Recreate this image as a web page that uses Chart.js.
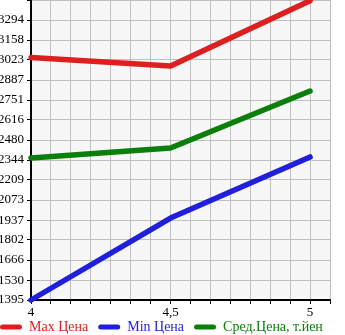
<!DOCTYPE html>
<html>
<head>
<meta charset="utf-8">
<script src="https://cdn.jsdelivr.net/npm/chart.js@4/dist/chart.umd.min.js"></script>
<style>
html,body{margin:0;padding:0;background:#fff;}
#wrap{width:345px;height:335px;position:relative;}
</style>
</head>
<body>
<div id="wrap"><canvas id="c"></canvas></div>
<script>
const xValues = [4, 4.5, 5];
const xTickLabels = ['4', '4,5', '5'];
const seriesNames = ['Max Цена', 'Min Цена', 'Сред.Цена, т.йен'];
const maxPrice = [3040, 2982, 3425];
const minPrice = [1395, 1951, 2365];
const avgPrice = [2358, 2426, 2812];
const yTickLabels = ['1395','1530','1666','1802','1937','2073','2209','2344','2480','2616','2751','2887','3023','3158','3294'];
const colors = ['#dd1f1f', '#1f1fdd', '#0a800a'];

const yVals = yTickLabels.map(Number);
const yStep = (yVals[yVals.length-1] - yVals[0]) / (yVals.length - 1);
const yMax = yVals[yVals.length-1] + yStep;
const xStep = (xValues[2] - xValues[0]) / 14;
const xMax = xValues[0] + 15 * xStep;
const legendPad = 10;

function pts(arr){ return arr.map((v,i)=>({x:xValues[i], y:v})); }

const bgPlugin = {
  id: 'bg',
  beforeDraw(chart){
    const a = chart.chartArea, ctx = chart.ctx;
    ctx.save(); ctx.fillStyle = '#f7f7f7';
    ctx.fillRect(a.left, a.top, a.right - a.left, a.bottom - a.top);
    ctx.restore();
  },
  beforeLayout(chart){
    const lg = chart.legend;
    if (lg && !lg._wrapFit){
      const f = lg.fit.bind(lg);
      lg.fit = function(){
        f();
        this.height = 25;
        if (this.lineWidths && this.lineWidths.length === 1) this.lineWidths[0] = legendPad + chart.width;
      };
      lg._wrapFit = true;
    }
  }
};

const datasets = [maxPrice, minPrice, avgPrice].map((d,i)=>({
  label: seriesNames[i],
  data: pts(d),
  borderColor: colors[i],
  backgroundColor: colors[i],
  borderWidth: 5.5,
  borderCapStyle: 'round',
  borderJoinStyle: 'round',
  pointRadius: 0,
  fill: false,
  tension: 0,
  clip: false
}));

const font = {family: '"Liberation Serif", "Times New Roman", serif', size: 13};
const legendFont = {family: '"Liberation Serif", "Times New Roman", serif', size: 14};

new Chart(document.getElementById('c'), {
  type: 'line',
  data: {datasets},
  plugins: [bgPlugin],
  options: {
    responsive: true,
    maintainAspectRatio: false,
    animation: false,
    layout: {padding: 0},
    plugins: {
      tooltip: {enabled: false},
      legend: {
        position: 'bottom',
        labels: {
          font: legendFont,
          boxWidth: 22,
          boxHeight: 5,
          padding: legendPad,
          useBorderRadius: true,
          borderRadius: 2.5,
          generateLabels(chart){
            return chart.data.datasets.map((ds,i)=>({
              text: ds.label,
              fillStyle: ds.borderColor,
              strokeStyle: ds.borderColor,
              lineWidth: 0,
              fontColor: ds.borderColor,
              borderRadius: 2.5,
              datasetIndex: i,
              hidden: false
            }));
          }
        }
      }
    },
    scales: {
      x: {
        type: 'linear',
        min: xValues[0],
        max: xMax,
        afterBuildTicks(scale){
          const t = [];
          for (let k = 0; k <= 15; k++) t.push({value: xValues[0] + k * xStep});
          scale.ticks = t;
        },
        afterFit(scale){
          scale.height = 10; scale.paddingLeft = 0; scale.paddingRight = 15;
          scale._computeLabelArea = function(){ return undefined; };
        },
        ticks: {
          font: font, color: '#000', maxRotation: 0, autoSkip: false, padding: 1,
          callback(v){
            for (let i = 0; i < xValues.length; i++) if (Math.abs(v - xValues[i]) < 1e-6) return xTickLabels[i];
            return '';
          }
        },
        grid: {color: '#c0c0c0', tickColor: '#000', tickLength: 4, lineWidth: 1},
        border: {color: '#000', width: 2}
      },
      y: {
        type: 'linear',
        min: yVals[0],
        max: yMax,
        afterBuildTicks(scale){
          const t = yVals.map(v=>({value: v}));
          t.push({value: yMax});
          scale.ticks = t;
        },
        afterFit(scale){ scale.width = 31; scale.paddingTop = 0; scale.paddingBottom = 0; },
        ticks: {
          font: font, color: '#000', autoSkip: false, padding: 3,
          callback(v, i){ return i < yTickLabels.length ? yTickLabels[i] : ''; }
        },
        grid: {color: '#c0c0c0', tickColor: '#000', tickLength: 4, lineWidth: 1},
        border: {color: '#000', width: 2}
      }
    }
  }
});
</script>
</body>
</html>
